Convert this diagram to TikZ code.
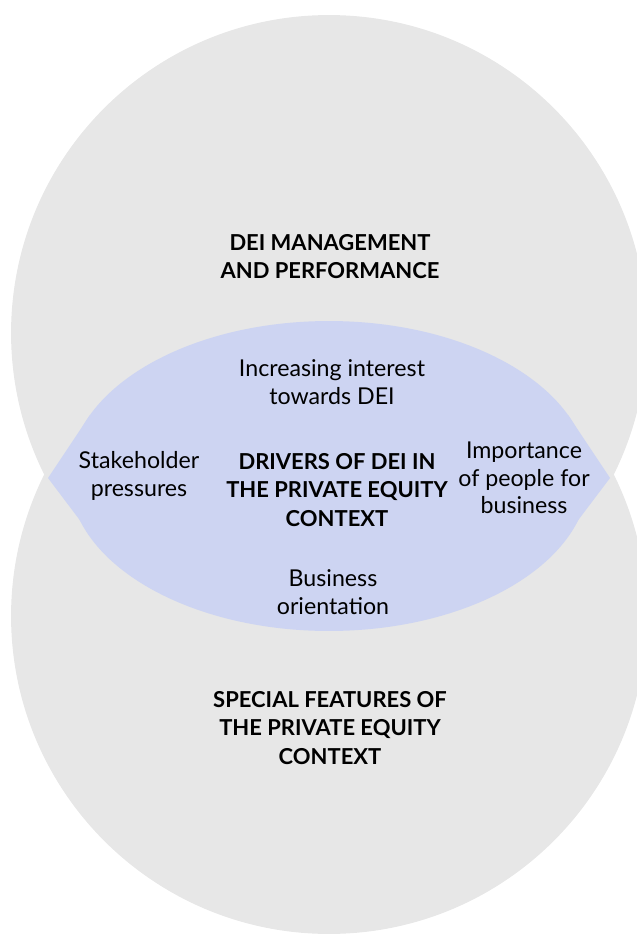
\documentclass[tikz,border=0pt]{standalone}
\usepackage{fontspec}
\setmainfont{Lato}
\usetikzlibrary{positioning}
\definecolor{setgray}{HTML}{E7E7E7}
\definecolor{driverblue}{HTML}{CDD4F2}
\tikzstyle{heading} = [align=center, text=black, font=\fontsize{12.5}{16}\selectfont\bfseries]
\tikzstyle{factor} = [align=center, text=black, font=\fontsize{13.2}{15.6}\selectfont]
\tikzstyle{setdisc} = [fill=setgray]

\begin{document}
\begin{tikzpicture}[x=0.02cm, y=-0.02cm]
\useasboundingbox (0,0) rectangle (636,936);

\coordinate (topc) at (329,333);
\coordinate (botc) at (329,616);
\coordinate (mid) at (329,476);

% the two sets
\fill[setdisc] (topc) circle[radius=6.36cm];
\fill[setdisc] (botc) circle[radius=6.36cm];

% overlap: ellipse with pointed ends at the crossings
\fill[driverblue] (mid) ellipse[x radius=5.2cm, y radius=3.1cm];
\fill[driverblue] (48,478) -- (90,415) -- (108.4,558) -- cycle;
\fill[driverblue] (610,478) -- (568,415) -- (549.6,558) -- cycle;

\node (dei) [heading] at (330,257) {DEI MANAGEMENT\\AND PERFORMANCE};
\node (drivers) [heading] at (337,490) {DRIVERS OF DEI IN\\THE PRIVATE EQUITY\\CONTEXT};
\node (special) [heading] at (330,728) {SPECIAL FEATURES OF\\THE PRIVATE EQUITY\\CONTEXT};

\node (interest) [factor] at (332,382) {Increasing interest\\towards DEI};
\node (pressures) [factor] at (139,476) {Stakeholder\\pressures};
\node (people) [factor] at (524,478) {Importance\\of people for\\business};
\node (business) [factor] at (333,592) {Business\\orientation};
\end{tikzpicture}
\end{document}
